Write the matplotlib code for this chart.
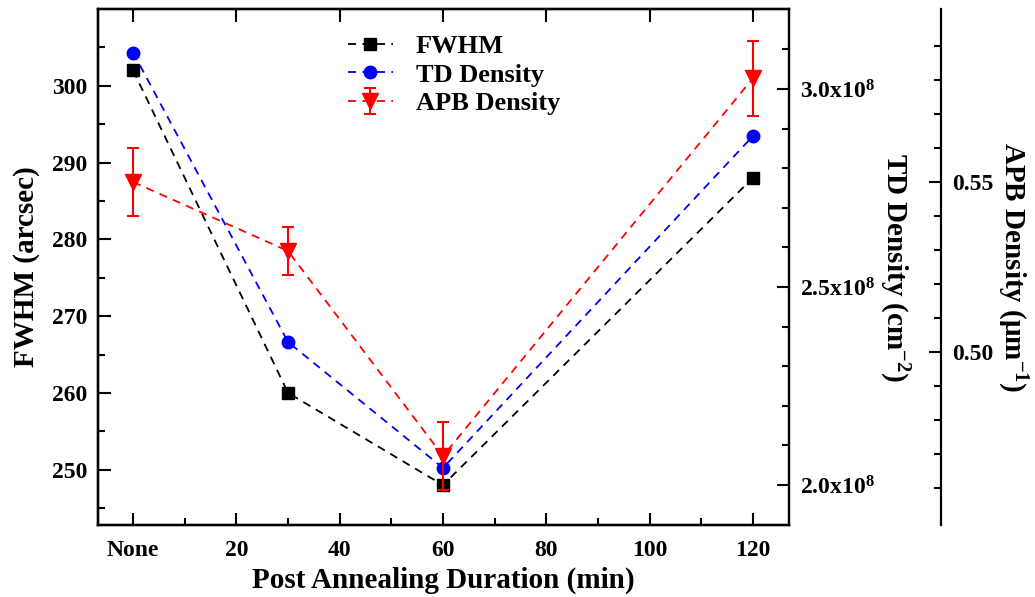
import numpy as np
import matplotlib
matplotlib.use('Agg')
import matplotlib.pyplot as plt
from matplotlib.ticker import FixedLocator, FuncFormatter

plt.rcParams['font.family'] = 'Liberation Serif'
plt.rcParams['font.weight'] = 'bold'
plt.rcParams['mathtext.fontset'] = 'custom'
plt.rcParams['mathtext.rm'] = 'Liberation Serif:bold'
plt.rcParams['mathtext.it'] = 'Liberation Serif:bold'
plt.rcParams['mathtext.bf'] = 'Liberation Serif:bold'
plt.rcParams['axes.linewidth'] = 1.6

# data
dur = [0, 30, 60, 120]            # 0 = no annealing ("None")
fwhm = [302.0, 260.0, 248.0, 288.0]
td = [3.092e8, 2.361e8, 2.043e8, 2.881e8]
apb = [0.5500, 0.5297, 0.4694, 0.5805]
apb_err = [0.0101, 0.0070, 0.0100, 0.0111]
xticks = [0, 20, 40, 60, 80, 100, 120]
xlabels = ['None', '20', '40', '60', '80', '100', '120']
fwhm_ticks = [250, 260, 270, 280, 290, 300]
td_ticks = [2.0e8, 2.5e8, 3.0e8]
apb_ticks = [0.50, 0.55]

fig = plt.figure(figsize=(10.35, 5.97), dpi=100)
ax = fig.add_axes([0.0947, 0.1206, 0.6676, 0.8643])
ax2 = ax.twinx()
ax3 = ax.twinx()
ax3.spines['right'].set_position(('axes', 1.22))

lw = 1.3
ds = (4.5, 3.5)
l1, = ax.plot(dur, fwhm, color='black', ls='--', dashes=ds, lw=lw,
              marker='s', ms=8, label='FWHM')
l2, = ax2.plot(dur, td, color='blue', ls='--', dashes=ds, lw=lw,
               marker='o', ms=9, label='TD Density')
eb = ax3.errorbar(dur, apb, yerr=apb_err, color='red', ls='--', dashes=ds,
                  lw=lw, marker='v', ms=11, capsize=4.5, elinewidth=1.5,
                  capthick=1.5, label='APB Density')

ax.set_xlim(-6.8, 127)
ax.set_ylim(242.8, 310)
ax2.set_ylim(1.899e8, 3.202e8)
ax3.set_ylim(0.4491, 0.6009)

ax.set_xticks(xticks)
ax.set_xticklabels(xlabels)
ax.xaxis.set_minor_locator(FixedLocator([10, 30, 50, 70, 90, 110]))
ax.set_yticks(fwhm_ticks)
ax.yaxis.set_minor_locator(FixedLocator([245, 255, 265, 275, 285, 295, 305]))
ax2.set_yticks(td_ticks)
ax2.yaxis.set_minor_locator(FixedLocator([2.1e8, 2.2e8, 2.3e8, 2.4e8, 2.6e8,
                                          2.7e8, 2.8e8, 2.9e8, 3.1e8]))
ax2.yaxis.set_major_formatter(FuncFormatter(lambda v, p: '%.1fx10$^{8}$' % (v / 1e8)))
ax3.set_yticks(apb_ticks)
ax3.yaxis.set_minor_locator(FixedLocator(np.round(np.arange(0.46, 0.595, 0.01), 2)))
ax3.yaxis.set_major_formatter(FuncFormatter(lambda v, p: '%.2f' % v))

ax.tick_params(axis='x', which='both', direction='in', top=True, labelsize=17, pad=11)
ax.tick_params(axis='x', which='minor', top=False)
ax.tick_params(axis='y', which='both', direction='in', labelsize=17, pad=8)
for a in (ax, ax2, ax3):
    a.tick_params(which='major', length=9, width=1.5)
    a.tick_params(which='minor', length=5, width=1.5)
for a in (ax2, ax3):
    a.tick_params(axis='y', which='both', direction='in', labelsize=17, pad=8)

ax.set_xlabel('Post Annealing Duration (min)', fontsize=21, fontweight='bold', labelpad=4)
ax.set_ylabel('FWHM (arcsec)', fontsize=21, fontweight='bold', labelpad=8)
ax2.set_ylabel('TD Density (cm$^{-2}$)', fontsize=21, fontweight='bold',
               rotation=-90, labelpad=26)
ax3.set_ylabel('APB Density ($\\mu$m$^{-1}$)', fontsize=21, fontweight='bold',
               rotation=-90, labelpad=26)

ax3.legend([l1, l2, eb], ['FWHM', 'TD Density', 'APB Density'],
           loc='upper left', bbox_to_anchor=(0.313, 0.982), bbox_transform=fig.transFigure,
           frameon=False, fontsize=19, handlelength=1.7, numpoints=1,
           labelspacing=0.2, handletextpad=0.87)

fig.savefig('out.png', dpi=100)
